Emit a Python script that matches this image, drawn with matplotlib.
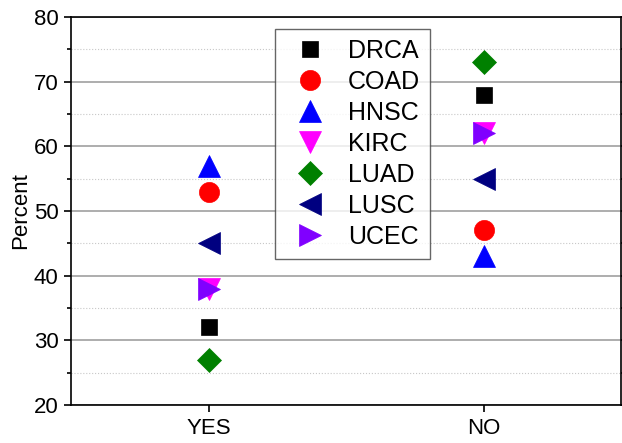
import matplotlib.pyplot as plt
from matplotlib.ticker import MultipleLocator

plt.rcParams['font.family'] = ['Liberation Sans', 'DejaVu Sans']

groups = ["YES", "NO"]
names = ["DRCA", "COAD", "HNSC", "KIRC", "LUAD", "LUSC", "UCEC"]
yes_vals = [32, 53, 57, 38, 27, 45, 38]
no_vals = [68, 47, 43, 62, 73, 55, 62]

colors = ["black", "red", "blue", "magenta", "green", "navy", "#8000ff"]
markers = ["s", "o", "^", "v", "D", "<", ">"]
sizes = [12, 14.5, 16, 16, 12, 16, 16]

fig = plt.figure(figsize=(6.22, 4.43), dpi=100)
ax = fig.add_axes([71/622, 38/443, 550/622, 388/443])

for i in range(len(names)):
    ax.plot([0, 1], [yes_vals[i], no_vals[i]], linestyle="none",
            marker=markers[i], color=colors[i], markersize=sizes[i],
            markeredgewidth=0.5, label=names[i], zorder=3)

ax.set_xlim(-0.5, 1.5)
ax.set_ylim(20, 80)
ax.set_xticks([0, 1])
ax.set_xticklabels(groups)
ax.yaxis.set_major_locator(MultipleLocator(10))
ax.yaxis.set_minor_locator(MultipleLocator(5))

ax.grid(axis="y", which="major", color="#a0a0a0", linewidth=1.2, linestyle="-")
ax.grid(axis="y", which="minor", color="#c8c8c8", linewidth=0.8, linestyle=":")
ax.set_axisbelow(True)

for s in ax.spines.values():
    s.set_linewidth(1.2)

ax.tick_params(axis="both", which="major", labelsize=16, direction="out",
               length=5, width=1.2, pad=4)
ax.tick_params(axis="y", which="minor", direction="out", length=3, width=1.2)
ax.tick_params(axis="y", which="both", right=True, labelright=False)

ax.set_ylabel("Percent", fontsize=16, labelpad=2)

leg = ax.legend(loc="upper left", bbox_to_anchor=(0.3716, 0.969), fontsize=18,
                frameon=True, fancybox=False, edgecolor="#404040",
                borderpad=0.4, labelspacing=0.28, handlelength=2.0,
                handletextpad=0.5, borderaxespad=0, numpoints=1)
leg.get_frame().set_linewidth(1.0)

fig.savefig("out.png", dpi=100)
